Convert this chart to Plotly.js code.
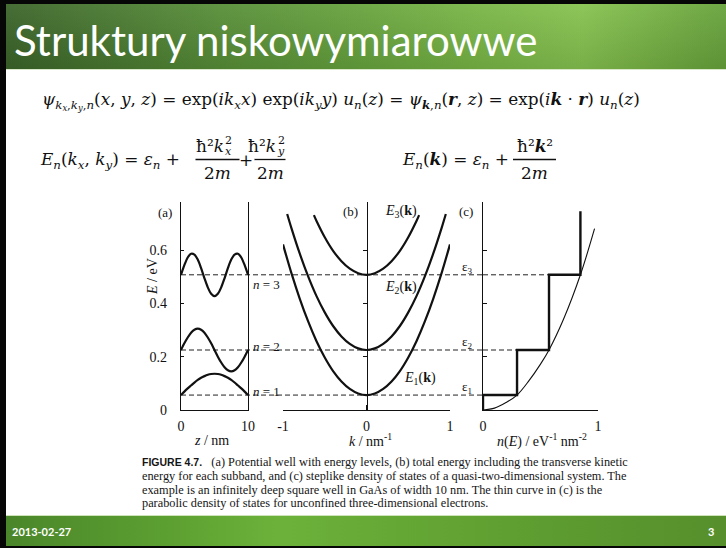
<!DOCTYPE html>
<html>
<head>
<meta charset="utf-8">
<script src="https://cdn.plot.ly/plotly-3.0.1.min.js"></script>
<style>
  html, body { margin: 0; padding: 0; background: #fff; }
  #slide { position: relative; width: 726px; height: 548px; background: #060606; overflow: hidden; }
  #head { position: absolute; left: 6px; top: 4px; width: 720px; height: 65px;
    background:
      linear-gradient(180deg, rgba(255,255,255,0.06) 0%, rgba(0,0,0,0.10) 100%),
      linear-gradient(90deg, #3b6429 0%, #46752f 12%, #578e37 30%, #66a23d 48%, #78b545 65%, #86c24f 80%, #73ae42 92%, #67a23b 100%);
    border-bottom: 1px solid #d8e8c8; }
  #page { position: absolute; left: 6px; top: 70px; width: 720px; height: 445px; background: #fff; }
  #foot { position: absolute; left: 6px; top: 515px; width: 720px; height: 30px;
    border-top: 1px solid #cfe3bb;
    background: linear-gradient(90deg, #4a862a 0%, #5c9f31 22%, #6cb23a 38%, #65a735 55%, #5d9c30 75%, #568f2c 100%); }
  #chart { position: absolute; left: 0; top: 0; width: 726px; height: 548px; }
</style>
</head>
<body>
<div id="slide">
  <div id="head"></div>
  <div id="page"></div>
  <div id="foot"></div>
  <div id="chart"></div>
</div>
<script>
// ---- subband energies (eV) for the 10 nm GaAs well ----
const levels = [0.056, 0.225, 0.507];
const epsNames = ['ε<sub>1</sub>', 'ε<sub>2</sub>', 'ε<sub>3</sub>'];

// ---- (a) wavefunctions drawn on their energy levels ----
const zNm = [0, 0.5, 1, 1.5, 2, 2.5, 3, 3.5, 4, 4.5, 5, 5.5, 6, 6.5, 7, 7.5, 8, 8.5, 9, 9.5, 10];
const psi1 = [0.056, 0.069, 0.081, 0.092, 0.103, 0.113, 0.121, 0.127, 0.132, 0.135, 0.136, 0.135, 0.132, 0.127, 0.121, 0.113, 0.103, 0.092, 0.081, 0.069, 0.056];
const psi2 = [0.225, 0.250, 0.272, 0.290, 0.301, 0.305, 0.301, 0.290, 0.272, 0.250, 0.225, 0.200, 0.178, 0.160, 0.149, 0.145, 0.149, 0.160, 0.178, 0.200, 0.225];
const psi3 = [0.507, 0.543, 0.572, 0.586, 0.583, 0.564, 0.532, 0.494, 0.460, 0.436, 0.427, 0.436, 0.460, 0.494, 0.532, 0.564, 0.583, 0.586, 0.572, 0.543, 0.507];

// ---- (b) subband dispersions E_n(k) ----
const kBand1 = [-1, -0.9, -0.8, -0.7, -0.6, -0.5, -0.4, -0.3, -0.2, -0.1, 0, 0.1, 0.2, 0.3, 0.4, 0.5, 0.6, 0.7, 0.8, 0.9, 1];
const eBand1 = [0.621, 0.514, 0.418, 0.333, 0.259, 0.197, 0.146, 0.107, 0.079, 0.062, 0.056, 0.062, 0.079, 0.107, 0.146, 0.197, 0.259, 0.333, 0.418, 0.514, 0.621];
const kBand2 = [-0.95, -0.9, -0.8, -0.7, -0.6, -0.5, -0.4, -0.3, -0.2, -0.1, 0, 0.1, 0.2, 0.3, 0.4, 0.5, 0.6, 0.7, 0.8, 0.9, 0.95];
const eBand2 = [0.735, 0.683, 0.587, 0.502, 0.428, 0.366, 0.315, 0.276, 0.248, 0.231, 0.225, 0.231, 0.248, 0.276, 0.315, 0.366, 0.428, 0.502, 0.587, 0.683, 0.735];
const kBand3 = [-0.63, -0.6, -0.5, -0.4, -0.3, -0.2, -0.1, 0, 0.1, 0.2, 0.3, 0.4, 0.5, 0.6, 0.63];
const eBand3 = [0.731, 0.710, 0.648, 0.597, 0.558, 0.530, 0.513, 0.507, 0.513, 0.530, 0.558, 0.597, 0.648, 0.710, 0.731];

// ---- (c) density of states ----
const stepDos = [0.296, 0.574, 0.847];   // eV^-1 nm^-2 reached at each subband edge
const stepTopE = 0.745;
const dos3dN = [0, 0.1, 0.2, 0.296, 0.4, 0.5, 0.574, 0.7, 0.847, 0.97];
const dos3dE = [0, 0.007, 0.028, 0.056, 0.11, 0.172, 0.225, 0.34, 0.507, 0.68];

// ---- axis ticks ----
const eTicks = [0, 0.2, 0.4, 0.6];
const eTickText = ['0', '0.2', '0.4', '0.6'];
const zTicks = [0, 10];
const kTicks = [-1, 0, 1];
const kTickText = ['-1', '0', '1'];
const nTicks = [0, 1];

// ---- caption ----
const captionLines = [
  '<span style="font-family:Liberation Sans;font-weight:bold;font-size:10.5px">FIGURE 4.7.</span>   (a) Potential well with energy levels, (b) total energy including the transverse kinetic',
  'energy for each subband, and (c) steplike density of states of a quasi-two-dimensional system. The',
  'example is an infinitely deep square well in GaAs of width 10 nm. The thin curve in (c) is the',
  'parabolic density of states for unconfined three-dimensional electrons.'
];

// page geometry helpers (pixel -> paper fraction)
const W = 726, H = 548;
const px = x => x / W;
const py = y => 1 - y / H;

const serif = 'Liberation Serif';
const mathFamily = 'DejaVu Serif';
const ink = '#111';

// step outline built from the level and DOS arrays
const dosX = [0, 0], dosY = [0, levels[0]];
for (let i = 0; i < levels.length; i++) {
  dosX.push(stepDos[i], stepDos[i]);
  dosY.push(levels[i], i + 1 < levels.length ? levels[i + 1] : stepTopE);
}

const thick = { color: ink, width: 2.2, shape: 'spline', smoothing: 0.8 };
const traces = [
  { x: zNm, y: psi1, xaxis: 'x', yaxis: 'y', mode: 'lines', line: thick },
  { x: zNm, y: psi2, xaxis: 'x', yaxis: 'y', mode: 'lines', line: thick },
  { x: zNm, y: psi3, xaxis: 'x', yaxis: 'y', mode: 'lines', line: thick },
  { x: kBand1, y: eBand1, xaxis: 'x2', yaxis: 'y2', mode: 'lines', line: thick },
  { x: kBand2, y: eBand2, xaxis: 'x2', yaxis: 'y2', mode: 'lines', line: thick },
  { x: kBand3, y: eBand3, xaxis: 'x2', yaxis: 'y2', mode: 'lines', line: thick },
  { x: dos3dN, y: dos3dE, xaxis: 'x3', yaxis: 'y3', mode: 'lines', line: { color: ink, width: 1.1, shape: 'spline' } },
  { x: dosX, y: dosY, xaxis: 'x3', yaxis: 'y3', mode: 'lines', line: { color: ink, width: 2.4 } }
];

const eRange = [0, 0.78];
const yDom = [py(410), py(202)];
const tickFont = { family: serif, size: 14, color: ink };
const baseAxis = { showgrid: false, zeroline: false, fixedrange: true, showline: true,
  linecolor: ink, linewidth: 1.2, tickcolor: ink, tickfont: tickFont };

const layout = {
  width: W, height: H,
  margin: { l: 0, r: 0, t: 0, b: 0 },
  paper_bgcolor: 'rgba(0,0,0,0)', plot_bgcolor: 'rgba(0,0,0,0)',
  showlegend: false,
  xaxis: Object.assign({}, baseAxis, { domain: [px(181), px(248)], range: [0, 10], anchor: 'y',
    tickmode: 'array', tickvals: zTicks, ticks: '', ticklabelstandoff: 3 }),
  yaxis: Object.assign({}, baseAxis, { domain: yDom, range: eRange, anchor: 'x', mirror: true,
    tickmode: 'array', tickvals: eTicks, ticktext: eTickText, ticks: 'inside', ticklen: 3, ticklabelstandoff: 10 }),
  xaxis2: Object.assign({}, baseAxis, { domain: [px(283), px(450)], range: [-1, 1], anchor: 'y2',
    tickmode: 'array', tickvals: kTicks, ticktext: kTickText, ticks: 'inside', ticklen: 5, ticklabelstandoff: 3 }),
  yaxis2: Object.assign({}, baseAxis, { domain: yDom, range: eRange, anchor: 'free', position: px(366.5),
    tickmode: 'array', tickvals: eTicks.slice(1), ticks: 'outside', ticklen: 4, showticklabels: false }),
  xaxis3: Object.assign({}, baseAxis, { domain: [px(483), px(598)], range: [0, 1], anchor: 'y3',
    tickmode: 'array', tickvals: nTicks, ticks: 'inside', ticklen: 5, ticklabelstandoff: 3 }),
  yaxis3: Object.assign({}, baseAxis, { domain: yDom, range: eRange, anchor: 'x3',
    tickmode: 'array', tickvals: eTicks.slice(1), ticks: 'inside', ticklen: 4, showticklabels: false }),
  shapes: [],
  annotations: []
};

// dashed subband levels running across all three panels
levels.forEach((e, i) => {
  const dash = { color: '#222', width: 1, dash: '5px,3px' };
  layout.shapes.push({ type: 'line', xref: 'paper', yref: 'y', x0: px(181), x1: px(483), y0: e, y1: e, line: dash, layer: 'below' });
  layout.shapes.push({ type: 'line', xref: 'x3', yref: 'y3', x0: 0, x1: i === 0 ? 0 : stepDos[i - 1], y0: e, y1: e, line: dash, layer: 'below' });
});

const ann = (x, y, text, o) => Object.assign({
  xref: 'paper', yref: 'paper', x: px(x), y: py(y), text: text, showarrow: false,
  xanchor: 'center', yanchor: 'middle', font: { family: serif, size: 13, color: ink }
}, o || {});

// slide title and footer
layout.annotations.push(ann(12, 40, 'Struktury niskowymiarowwe',
  { xanchor: 'left', font: { family: 'Lato', size: 42, color: '#ffffff' } }));
layout.annotations.push(ann(10, 531, '2013-02-27',
  { xanchor: 'left', font: { family: 'Lato', size: 11, color: '#ffffff', weight: 'bold' } }));
layout.annotations.push(ann(716, 531, '3',
  { xanchor: 'right', font: { family: 'Lato', size: 11, color: '#ffffff', weight: 'bold' } }));

// equations
const eqFont = { family: mathFamily, size: 16.9, color: ink };
const idxFont = { family: mathFamily, size: 11, color: ink };
layout.annotations.push(ann(40, 101,
  '<i>ψ</i><sub><i>k<sub>x</sub></i>,<i>k<sub>y</sub></i>,<i>n</i></sub>(<i>x</i>, <i>y</i>, <i>z</i>) = exp(<i>ik<sub>x</sub>x</i>) exp(<i>ik<sub>y</sub>y</i>) <i>u<sub>n</sub></i>(<i>z</i>) = <i>ψ</i><sub><b><i>k</i></b>,<i>n</i></sub>(<b><i>r</i></b>, <i>z</i>) = exp(<i>i</i><b><i>k</i></b> · <b><i>r</i></b>) <i>u<sub>n</sub></i>(<i>z</i>)',
  { xanchor: 'left', font: eqFont }));
layout.annotations.push(ann(38, 160,
  '<i>E<sub>n</sub></i>(<i>k<sub>x</sub></i>, <i>k<sub>y</sub></i>) = <i>ε<sub>n</sub></i> +',
  { xanchor: 'left', font: eqFont }));
layout.annotations.push(ann(400, 160,
  '<i>E<sub>n</sub></i>(<b><i>k</i></b>) = <i>ε<sub>n</sub></i> +',
  { xanchor: 'left', font: eqFont }));
layout.annotations.push(ann(245.5, 160, '+', { font: eqFont }));

// fractions ħ²k²/2m: numerator, bar, denominator; the k index and square sit stacked
const fractions = [
  { cx: 217.5, half: 22, idx: 'x' },
  { cx: 270, half: 15.5, idx: 'y' },
  { cx: 534.5, half: 21.5, idx: null }
];
fractions.forEach(f => {
  if (f.idx) {
    const edge = f.cx + 8;
    layout.annotations.push(ann(edge, 146, 'ħ²<i>k</i>', { xanchor: 'right', font: eqFont }));
    layout.annotations.push(ann(edge - 2.5, 140.5, '2', { xanchor: 'left', font: idxFont }));
    layout.annotations.push(ann(edge - 3, 151.5, '<i>' + f.idx + '</i>', { xanchor: 'left', font: idxFont }));
  } else {
    layout.annotations.push(ann(f.cx, 146, 'ħ²<b><i>k</i></b>²', { font: eqFont }));
  }
  layout.annotations.push(ann(f.cx, 173, '2<i>m</i>', { font: eqFont }));
  layout.shapes.push({ type: 'line', xref: 'paper', yref: 'paper', x0: px(f.cx - f.half), x1: px(f.cx + f.half),
    y0: py(159.5), y1: py(159.5), line: { color: ink, width: 1.3 } });
});

// panel labels
const labFont = { family: serif, size: 14, color: ink };
layout.annotations.push(ann(165, 212, '(a)'));
layout.annotations.push(ann(350, 211, '(b)'));
layout.annotations.push(ann(466, 211, '(c)'));
layout.annotations.push(ann(401, 211, '<i>E</i><sub>3</sub>(<b>k</b>)', { font: labFont }));
layout.annotations.push(ann(401, 287, '<i>E</i><sub>2</sub>(<b>k</b>)', { font: labFont }));
layout.annotations.push(ann(420, 378, '<i>E</i><sub>1</sub>(<b>k</b>)', { font: labFont }));

// level names
const levelLabelY = [391, 346, 284];
levels.forEach((e, i) => {
  layout.annotations.push(ann(266, levelLabelY[i], '<i>n</i> = ' + (i + 1), { font: { family: serif, size: 13, color: ink } }));
});
const epsLabelY = [387, 342, 267];
epsNames.forEach((t, i) => {
  layout.annotations.push(ann(467, epsLabelY[i], t, { font: { family: serif, size: 13, color: ink } }));
});

// axis titles
layout.annotations.push(ann(152, 277, '<i>E</i> / eV', { textangle: -90, font: labFont }));
layout.annotations.push(ann(211, 440, '<i>z</i> / nm', { font: labFont }));
layout.annotations.push(ann(370, 440, '<i>k</i> / nm<sup>-1</sup>', { font: labFont }));
layout.annotations.push(ann(542, 440, '<i>n</i>(<i>E</i>) / eV<sup>-1</sup> nm<sup>-2</sup>', { font: labFont }));

// caption
const capY = [462, 476, 489.5, 503];
captionLines.forEach((t, i) => {
  layout.annotations.push(ann(140, capY[i], t, { xanchor: 'left', font: { family: serif, size: 12.3, color: '#151515' } }));
});

Plotly.newPlot('chart', traces, layout, { staticPlot: true, displayModeBar: false });
</script>
</body>
</html>
